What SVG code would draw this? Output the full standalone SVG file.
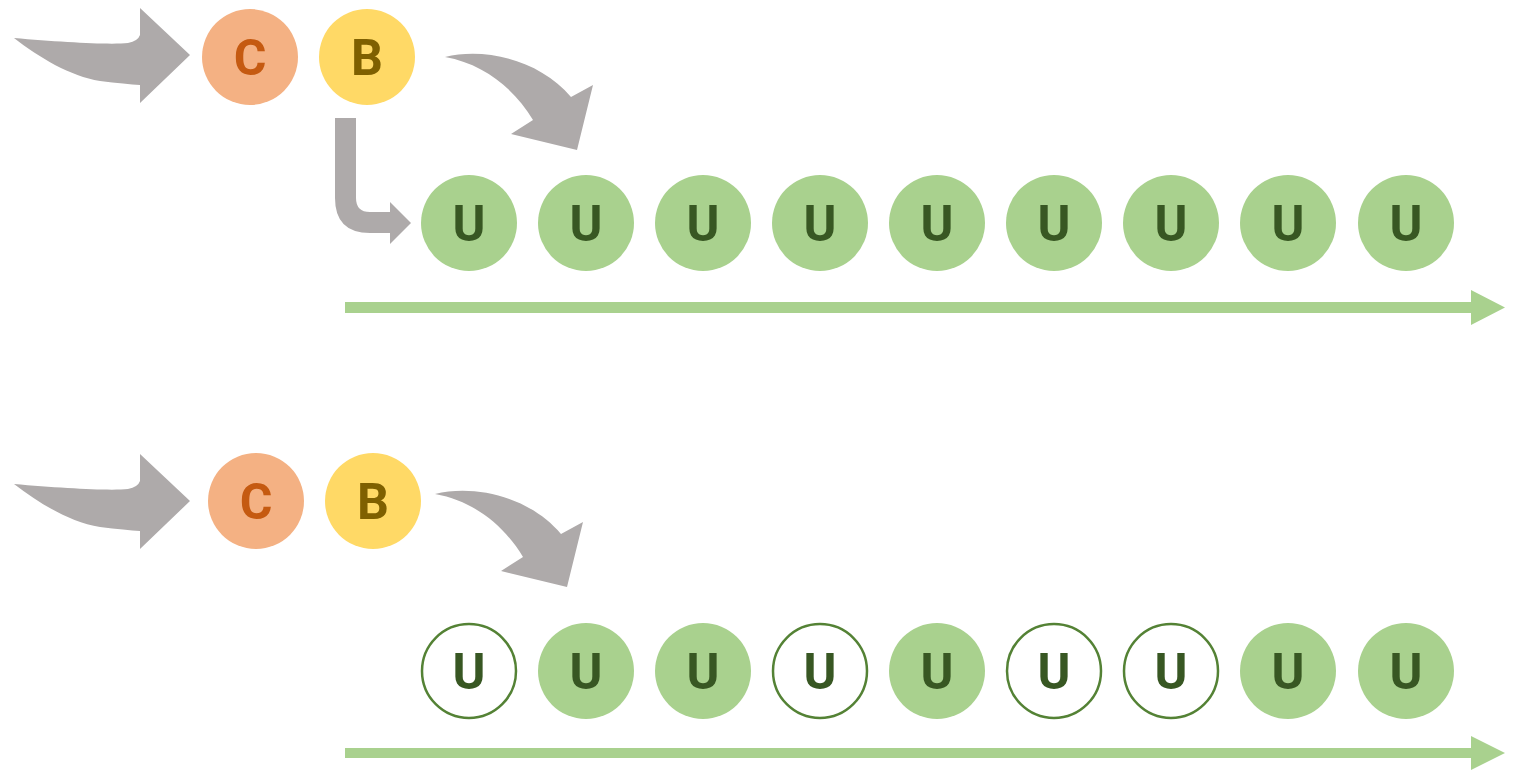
<svg xmlns="http://www.w3.org/2000/svg" width="1514" height="772" viewBox="0 0 1514 772">
<style>
.c{fill:#F4B183}.b{fill:#FFD966}.u{fill:#A9D18E}.h{fill:#FFFFFF;stroke:#548235;stroke-width:2.5}
text{font-family:Roboto,"Liberation Sans",sans-serif;font-weight:bold;font-size:50px;text-anchor:middle}
.tc{fill:#C55A11}.tb{fill:#7F6000}.tu{fill:#385723}
.g{fill:#AEAAAA}.ga{fill:#A9D18E}
</style>
<defs>
<path id="inArrow" d="M14,38 C60,42 110,45 128,43 Q138,41 140,35 L140,8 L190,55 L140,103 L140,85 Q126,84 100,81 C70,76 40,58 14,38 Z"/>
<path id="curveArrow" d="M445,57 C485,47 540,60 571,97 L593,85 L577,150 L511,134 L533,120 C515,90 485,64 445,57 Z"/>
</defs>
<g id="connectors">
<use href="#inArrow" class="g"/>
<use href="#curveArrow" class="g"/>
<path class="g" d="M335,118 L356,118 L356,198 Q356,212 370,212 L390,212 L390,202 L411,223 L390,244 L390,233 L370,233 Q335,233 335,198 Z"/>
<path class="ga" d="M345,302 L1471,302 L1471,290 L1505,307.5 L1471,325 L1471,313 L345,313 Z"/>
<use href="#inArrow" class="g" transform="translate(0,446)"/>
<use href="#curveArrow" class="g" transform="translate(-10,437)"/>
<path class="ga" d="M345,748 L1471,748 L1471,736 L1505,753 L1471,770 L1471,758 L345,758 Z"/>
</g>
<g id="c1"><circle class="c" cx="250" cy="57" r="48"/><text class="tc" x="250" y="75">C</text></g>
<g id="b1"><circle class="b" cx="367" cy="57" r="48"/><text class="tb" x="367" y="75">B</text></g>
<g id="u1-1"><circle class="u" cx="469" cy="223" r="48"/><text class="tu" x="469" y="241">U</text></g>
<g id="u1-2"><circle class="u" cx="586" cy="223" r="48"/><text class="tu" x="586" y="241">U</text></g>
<g id="u1-3"><circle class="u" cx="703" cy="223" r="48"/><text class="tu" x="703" y="241">U</text></g>
<g id="u1-4"><circle class="u" cx="820" cy="223" r="48"/><text class="tu" x="820" y="241">U</text></g>
<g id="u1-5"><circle class="u" cx="937" cy="223" r="48"/><text class="tu" x="937" y="241">U</text></g>
<g id="u1-6"><circle class="u" cx="1054" cy="223" r="48"/><text class="tu" x="1054" y="241">U</text></g>
<g id="u1-7"><circle class="u" cx="1171" cy="223" r="48"/><text class="tu" x="1171" y="241">U</text></g>
<g id="u1-8"><circle class="u" cx="1288" cy="223" r="48"/><text class="tu" x="1288" y="241">U</text></g>
<g id="u1-9"><circle class="u" cx="1406" cy="223" r="48"/><text class="tu" x="1406" y="241">U</text></g>
<g id="c2"><circle class="c" cx="256" cy="501" r="48"/><text class="tc" x="256" y="519">C</text></g>
<g id="b2"><circle class="b" cx="373" cy="501" r="48"/><text class="tb" x="373" y="519">B</text></g>
<g id="u2-1"><circle class="h" cx="469" cy="671" r="47"/><text class="tu" x="469" y="689">U</text></g>
<g id="u2-2"><circle class="u" cx="586" cy="671" r="48"/><text class="tu" x="586" y="689">U</text></g>
<g id="u2-3"><circle class="u" cx="703" cy="671" r="48"/><text class="tu" x="703" y="689">U</text></g>
<g id="u2-4"><circle class="h" cx="820" cy="671" r="47"/><text class="tu" x="820" y="689">U</text></g>
<g id="u2-5"><circle class="u" cx="937" cy="671" r="48"/><text class="tu" x="937" y="689">U</text></g>
<g id="u2-6"><circle class="h" cx="1054" cy="671" r="47"/><text class="tu" x="1054" y="689">U</text></g>
<g id="u2-7"><circle class="h" cx="1171" cy="671" r="47"/><text class="tu" x="1171" y="689">U</text></g>
<g id="u2-8"><circle class="u" cx="1288" cy="671" r="48"/><text class="tu" x="1288" y="689">U</text></g>
<g id="u2-9"><circle class="u" cx="1406" cy="671" r="48"/><text class="tu" x="1406" y="689">U</text></g>
</svg>
